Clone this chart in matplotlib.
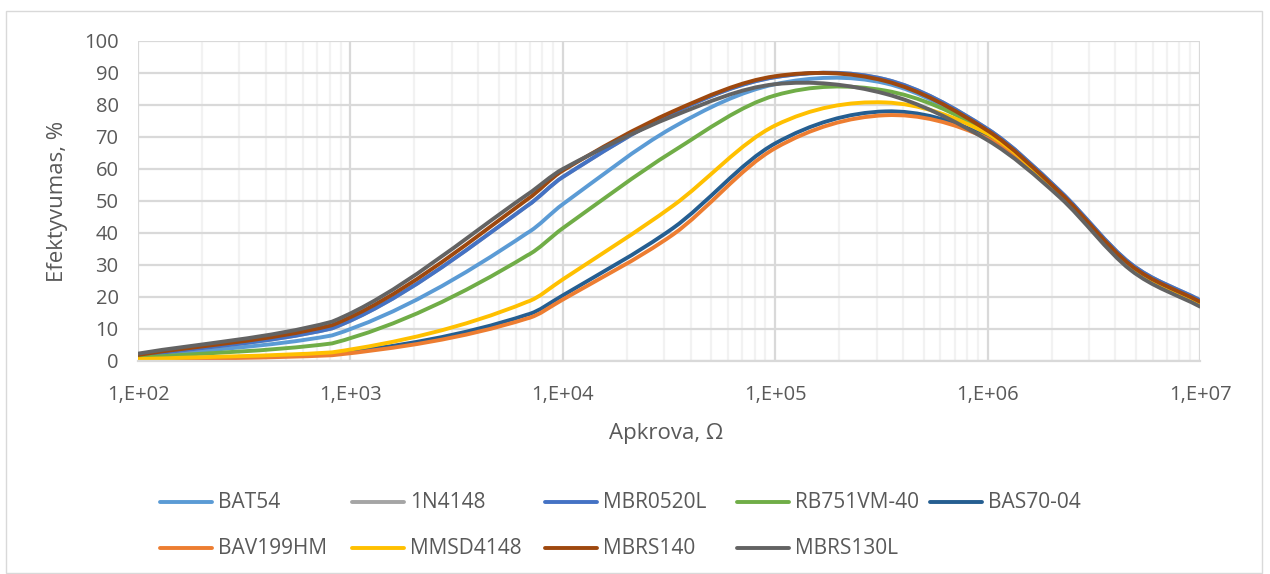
import numpy as np
import matplotlib
matplotlib.use("Agg")
import matplotlib.pyplot as plt
from matplotlib.path import Path
from matplotlib.patches import PathPatch, Rectangle
from matplotlib.lines import Line2D
from matplotlib.ticker import FuncFormatter, LogLocator, NullFormatter

plt.rcParams['font.family'] = ['Open Sans', 'DejaVu Sans']

# load resistance, ohm
load = [100, 820, 6800, 1e4, 3.3e4, 1e5, 3.3e5, 1e6, 2.2e6, 4.7e6, 1e7]

# efficiency, %
bat54 = [1.3, 8.0, 40.0, 49.0, 73.0, 86.5, 86.8, 71.5, 52.0, 29.5, 18.3]
n4148 = [1.6, 10.2, 48.5, 57.5, 77.5, 88.7, 88.0, 72.5, 53.0, 30.5, 19.0]
mbr0520l = [1.6, 10.2, 48.5, 57.5, 77.5, 88.7, 88.0, 72.5, 53.0, 30.5, 19.0]
rb751 = [1.0, 5.5, 33.0, 41.5, 65.5, 83.0, 84.5, 71.5, 52.0, 29.5, 18.2]
bas7004 = [0.5, 2.2, 14.5, 20.5, 41.5, 68.0, 78.0, 70.0, 51.5, 29.3, 18.0]
bav199 = [0.3, 1.8, 13.3, 19.2, 39.5, 66.5, 76.8, 69.5, 51.5, 29.0, 18.0]
mmsd4148 = [0.6, 2.7, 18.5, 25.5, 48.5, 73.6, 80.8, 71.0, 52.0, 29.5, 18.2]
mbrs140 = [1.9, 11.2, 50.5, 59.5, 78.0, 89.0, 87.5, 72.0, 52.5, 30.0, 18.5]
mbrs130l = [2.3, 12.3, 52.0, 60.0, 76.5, 86.5, 83.5, 69.0, 51.0, 28.5, 17.0]

names = ['BAT54', '1N4148', 'MBR0520L', 'RB751VM-40', 'BAS70-04',
         'BAV199HM', 'MMSD4148', 'MBRS140', 'MBRS130L']
colors = ['#5B9BD5', '#A5A5A5', '#4472C4', '#70AD47', '#255E91',
          '#ED7D31', '#FFC000', '#9E480E', '#636363']
series = [bat54, n4148, mbr0520l, rb751, bas7004, bav199, mmsd4148, mbrs140, mbrs130l]

W, H = 1270, 574
TXT = '#595959'


def smooth_path(xs, ys):
    # cubic Hermite in (log10 x, y) written as Bezier segments;
    # centred slopes, except where a rising line turns steeper: there the
    # incoming side uses a weighted harmonic mean, so the corner stays visible
    lx = np.log10(np.asarray(xs, float))
    y = np.asarray(ys, float)
    n = len(lx)
    h = np.diff(lx)
    d = np.diff(y) / h
    m_in = np.empty(n)
    m_out = np.empty(n)
    m_in[0] = m_out[0] = d[0]
    m_in[-1] = m_out[-1] = d[-1]
    for k in range(1, n - 1):
        centred = (y[k + 1] - y[k - 1]) / (lx[k + 1] - lx[k - 1])
        m_in[k] = m_out[k] = centred
        if 0 < d[k - 1] < d[k]:
            w1 = 2 * h[k] + h[k - 1]
            w2 = h[k] + 2 * h[k - 1]
            m_in[k] = (w1 + w2) / (w1 / d[k - 1] + w2 / d[k])
    verts = [(xs[0], y[0])]
    codes = [Path.MOVETO]
    for i in range(n - 1):
        verts += [(10 ** (lx[i] + h[i] / 3), y[i] + m_out[i] * h[i] / 3),
                  (10 ** (lx[i + 1] - h[i] / 3), y[i + 1] - m_in[i + 1] * h[i] / 3),
                  (xs[i + 1], y[i + 1])]
        codes += [Path.CURVE4] * 3
    return Path(verts, codes)


fig = plt.figure(figsize=(W / 100, H / 100), dpi=100)
fig.patch.set_facecolor('white')

# chart border
fig.patches.append(Rectangle((6 / W, 1 / H), 1256 / W, (H - 12) / H, transform=fig.transFigure,
                             fill=False, edgecolor='#D9D9D9', linewidth=1.0))

ax = fig.add_axes([138 / W, 1 - 361 / H, 1062 / W, 320 / H])
ax.set_xscale('log')
ax.set_xlim(1e2, 1e7)
ax.set_ylim(0, 100)
ax.set_yticks(range(0, 101, 10))
ax.xaxis.set_major_locator(LogLocator(base=10, numticks=10))
ax.xaxis.set_minor_locator(LogLocator(base=10, subs=np.arange(2, 10), numticks=100))
ax.xaxis.set_minor_formatter(NullFormatter())
ax.xaxis.set_major_formatter(FuncFormatter(lambda v, p: '1,E+%02d' % int(round(np.log10(v)))))

ax.grid(True, which='minor', axis='x', color='#F2F2F2', linewidth=1.6)
ax.grid(True, which='major', axis='both', color='#D9D9D9', linewidth=1.6)
ax.set_axisbelow(True)
for s in ['top', 'right', 'left']:
    ax.spines[s].set_visible(False)
ax.spines['bottom'].set_color('#D9D9D9')
ax.spines['bottom'].set_linewidth(1.6)
ax.tick_params(which='both', length=0)
ax.tick_params(axis='y', pad=14, labelsize=14.5, labelcolor=TXT)
ax.tick_params(axis='x', pad=17, labelsize=14.5, labelcolor=TXT)

for vals, c in zip(series, colors):
    ax.add_patch(PathPatch(smooth_path(load, vals), facecolor='none', edgecolor=c,
                           linewidth=2.8, capstyle='round', joinstyle='round'))

fig.text(57 / W, 1 - 201 / H, 'Efektyvumas, %', rotation=90, ha='center', va='center',
         fontsize=16, color=TXT)
fig.text(666 / W, 1 - 433 / H, 'Apkrova, Ω', ha='center', va='center', fontsize=16, color=TXT)

# legend, two rows
leg_x = [160, 352, 545, 737, 930, 160, 352, 545, 737]
leg_y = [502, 502, 502, 502, 502, 548, 548, 548, 548]
for name, c, lx0, ly0 in zip(names, colors, leg_x, leg_y):
    fig.lines.append(Line2D([lx0 / W, (lx0 + 52) / W], [1 - ly0 / H, 1 - ly0 / H],
                            transform=fig.transFigure, color=c, linewidth=2.8,
                            solid_capstyle='round'))
    fig.text((lx0 + 58) / W, 1 - ly0 / H, name, ha='left', va='center', fontsize=15, color=TXT)

fig.savefig('out.png', dpi=100)
